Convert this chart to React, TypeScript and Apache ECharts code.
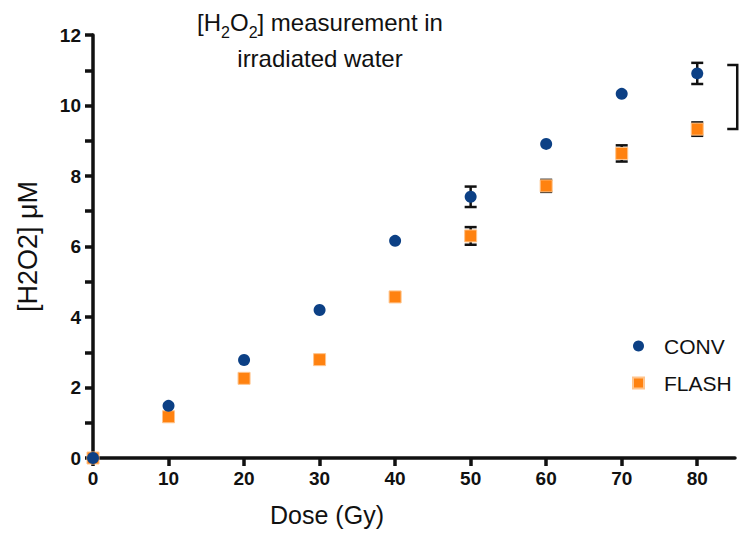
import React, { useEffect, useRef } from "react";
import * as echarts from "echarts";

const doses = [0, 10, 20, 30, 40, 50, 60, 70, 80];
const convMean = [0, 1.48, 2.78, 4.2, 6.16, 7.41, 8.91, 10.33, 10.91];
const flashMean = [0, 1.17, 2.26, 2.79, 4.57, 6.3, 7.72, 8.64, 9.33];
const convErr = [0, 0, 0, 0, 0, 0.29, 0, 0, 0.3];
const flashErr = [0, 0, 0, 0, 0, 0.25, 0.17, 0.23, 0.19];
const xTicks = [0, 10, 20, 30, 40, 50, 60, 70, 80];
const bracket = [[80, 11.15, 9.33]];

const BLUE = "#0c4085";
const ORANGE = "#ff8210";
const INK = "#111111";
const FONT = "'Liberation Sans', Arial, Helvetica, sans-serif";

export default function App() {
  const ref = useRef<HTMLDivElement>(null);

  useEffect(() => {
    if (!ref.current) return;
    const chart = echarts.init(ref.current, null, { renderer: "svg" });

    const errData: number[][] = [];
    doses.forEach((d, i) => {
      if (convErr[i] > 0) errData.push([d, convMean[i] - convErr[i], convMean[i] + convErr[i]]);
      if (flashErr[i] > 0) errData.push([d, flashMean[i] - flashErr[i], flashMean[i] + flashErr[i]]);
    });

    const option: any = {
      animation: false,
      backgroundColor: "#ffffff",
      textStyle: { fontFamily: FONT },
      grid: { left: 93, right: 11, top: 35, bottom: 76, containLabel: false },
      graphic: [
        {
          type: "text",
          x: 320,
          y: 4,
          style: {
            text: "[H{sub|2}O{sub|2}] measurement in\nirradiated water",
            textAlign: "center",
            font: `24px ${FONT}`,
            fill: INK,
            lineHeight: 36,
            rich: {
              sub: { fontSize: 16, fontFamily: FONT, fill: INK, verticalAlign: "bottom", padding: [14, 0, 0, 0] },
            },
          },
        },
      ],
      legend: {
        data: ["CONV", "FLASH"],
        orient: "vertical",
        left: 627,
        top: 330,
        itemWidth: 11,
        itemHeight: 11,
        itemGap: 15,
        textStyle: { fontSize: 21, color: INK, fontFamily: FONT, lineHeight: 22, padding: [0, 0, 0, 15] },
      },
      xAxis: {
        type: "value",
        min: 0,
        max: 85,
        interval: 10,
        name: "Dose (Gy)",
        nameLocation: "middle",
        nameGap: 44,
        nameTextStyle: { fontSize: 25, color: INK, fontFamily: FONT, padding: [0, 174, 0, 0] },
        axisLine: { show: true, onZero: false, lineStyle: { color: INK, width: 3.5 } },
        axisTick: { show: true, length: 8, lineStyle: { color: INK, width: 3.5 }, customValues: xTicks },
        axisLabel: { fontSize: 19, fontWeight: "bold", color: INK, margin: 11, fontFamily: FONT, customValues: xTicks },
        splitLine: { show: false },
      },
      yAxis: {
        type: "value",
        min: 0,
        max: 12,
        interval: 2,
        name: "[H2O2] \u03bcM",
        nameLocation: "middle",
        nameGap: 52,
        nameRotate: 90,
        nameTextStyle: { fontSize: 27, color: INK, fontFamily: FONT },
        axisLine: { show: true, onZero: false, lineStyle: { color: INK, width: 3.5 } },
        axisTick: { show: true, length: 8, lineStyle: { color: INK, width: 3.5 } },
        minorTick: { show: true, splitNumber: 2, length: 8, lineStyle: { color: INK, width: 3.5 } },
        axisLabel: { fontSize: 19, fontWeight: "bold", color: INK, margin: 12, fontFamily: FONT },
        splitLine: { show: false },
        minorSplitLine: { show: false },
      },
      series: [
        {
          type: "custom",
          name: "errors",
          z: 1,
          silent: true,
          encode: { x: 0, y: [1, 2] },
          data: errData,
          renderItem: (params: any, api: any) => {
            const x = api.value(0);
            const lo = api.coord([x, api.value(1)]);
            const hi = api.coord([x, api.value(2)]);
            const hw = 6;
            const style = { stroke: INK, lineWidth: 2.5 };
            return {
              type: "group",
              children: [
                { type: "line", shape: { x1: lo[0], y1: lo[1], x2: hi[0], y2: hi[1] }, style },
                { type: "line", shape: { x1: lo[0] - hw, y1: lo[1], x2: lo[0] + hw, y2: lo[1] }, style },
                { type: "line", shape: { x1: hi[0] - hw, y1: hi[1], x2: hi[0] + hw, y2: hi[1] }, style },
              ],
            };
          },
        },
        {
          type: "scatter",
          name: "FLASH",
          symbol: "rect",
          symbolSize: 12,
          z: 3,
          itemStyle: { color: ORANGE, borderColor: "#ffc48c", borderWidth: 1, opacity: 1 },
          data: doses.map((d, i) => [d, flashMean[i]]),
        },
        {
          type: "scatter",
          name: "CONV",
          symbol: "circle",
          symbolSize: 12,
          z: 4,
          itemStyle: { color: BLUE, opacity: 1 },
          data: doses.map((d, i) => [d, convMean[i]]),
        },
        {
          type: "custom",
          name: "bracket",
          z: 1,
          silent: true,
          clip: false,
          encode: { x: 0, y: [1, 2] },
          data: bracket,
          renderItem: (params: any, api: any) => {
            const x = api.value(0);
            const top = api.coord([x, api.value(1)]);
            const bot = api.coord([x, api.value(2)]);
            const x1 = top[0] + 30;
            const x2 = top[0] + 40;
            return {
              type: "polyline",
              shape: { points: [[x1, top[1]], [x2, top[1]], [x2, bot[1]], [x1, bot[1]]] },
              style: { stroke: INK, lineWidth: 2.5, fill: "none" },
            };
          },
        },
      ],
    };

    chart.setOption(option);
    return () => chart.dispose();
  }, []);

  return <div ref={ref} style={{ width: 746, height: 534, position: "absolute", left: 0, top: 0 }} />;
}
